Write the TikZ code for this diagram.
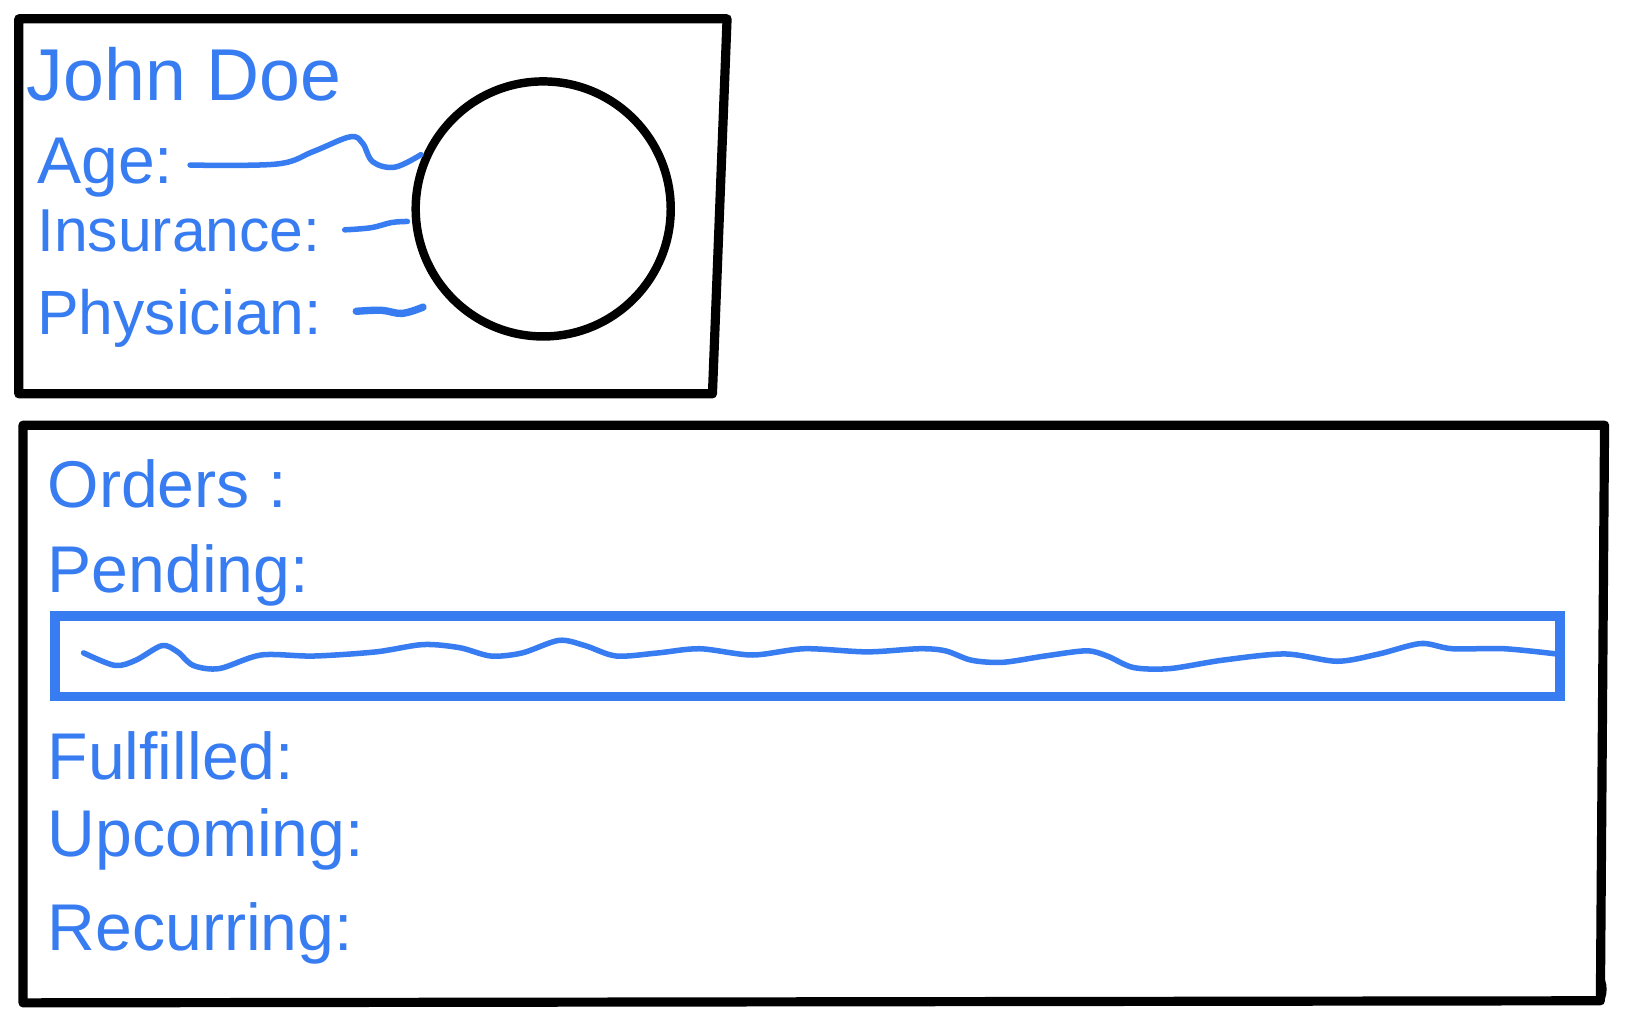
\documentclass[tikz,border=0pt]{standalone}
\usepackage{fontspec}
\setmainfont{Liberation Sans}
\definecolor{pen}{RGB}{56,124,242}
\begin{document}
\begin{tikzpicture}[x=0.01cm,y=-0.01cm,
  frame/.style={line width=2.5pt, line join=round, line cap=round},
  pentext/.style={text=pen, anchor=base west, inner sep=0pt, font=\fontsize{18}{21}\selectfont},
  wave/.style={draw=pen, line width=1.5pt, line cap=round, line join=round}]
\useasboundingbox (0,0) rectangle (1568,978);
\fill[white] (0,0) rectangle (1568,978);

% profile card
\draw[frame] (18,18) -- (696,18) -- (682,377) -- (18,377) -- cycle;
\node[circle, draw, line width=2.3pt, minimum size=2.44cm, inner sep=0pt] (photo) at (520,200) {};

\node[pentext, font=\fontsize{20}{24}\selectfont] (name) at (25,96) {John Doe};
\node[pentext] (age) at (35,176) {Age:};
\node[pentext, font=\fontsize{16.5}{20}\selectfont] (ins) at (35,241) {Insurance:};
\node[pentext, font=\fontsize{17}{20}\selectfont] (phys) at (35,320) {Physician:};

\draw[wave] plot[smooth, tension=0.6] coordinates {(182,158) (265,157) (300,145) (335,131) (347,137) (357,155) (378,160) (403,148)};
\draw[wave] plot[smooth, tension=0.6] coordinates {(330,220) (355,218) (375,213) (390,212)};
\draw[wave, line width=2pt] plot[smooth, tension=0.6] coordinates {(341,298) (365,297) (385,300) (405,294)};

% orders panel
\draw[frame] (22,407) -- (1536,407) -- (1532,958) -- (22,960) -- cycle;
\fill (1533,947) ellipse (5 and 12);

\node[pentext] (orders) at (45,486) {Orders :};
\node[pentext] (pending) at (45,567) {Pending:};
\node[draw=pen, line width=2.6pt, minimum width=14.4cm, minimum height=0.77cm, inner sep=0pt, anchor=north west] (pendbox) at (48,585) {};
\draw[wave] plot[smooth, tension=0.5] coordinates {
  (80,625) (110,637) (130,632) (155,618) (170,624) (185,637) (210,640) (250,627)
  (300,628) (360,624) (405,617) (440,620) (470,628) (500,625) (535,613) (560,618)
  (590,628) (630,625) (670,621) (720,627) (770,621) (830,624) (880,621) (905,623)
  (930,632) (960,634) (1000,628) (1040,623) (1060,628) (1085,639) (1120,640)
  (1170,632) (1230,626) (1280,633) (1320,626) (1360,616) (1390,621) (1440,621) (1490,626)};

\node[pentext] (fulfilled) at (45,746) {Fulfilled:};
\node[pentext] (upcoming) at (45,820) {Upcoming:};
\node[pentext] (recurring) at (45,910) {Recurring:};
\end{tikzpicture}
\end{document}
